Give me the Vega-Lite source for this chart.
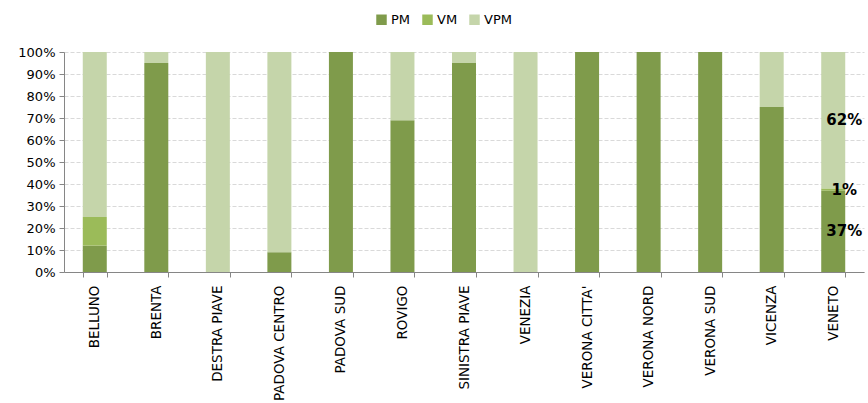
{
  "$schema": "https://vega.github.io/schema/vega-lite/v6.json",
  "width": 800,
  "height": 220,
  "autosize": {"type": "none"},
  "padding": {"left": 64, "top": 52, "right": 4, "bottom": 131},
  "background": "white",
  "config": {
    "font": "DejaVu Sans",
    "view": {"stroke": null},
    "axis": {"labelFont": "DejaVu Sans", "labelColor": "#000000"},
    "legend": {"labelFont": "DejaVu Sans"}
  },
  "resolve": {"scale": {"y": "shared"}, "axis": {"y": "independent"}},
  "data": {
    "values": [
      {"zona": "BELLUNO", "serie": "PM", "valore": 0.12},
      {"zona": "BELLUNO", "serie": "VM", "valore": 0.13},
      {"zona": "BELLUNO", "serie": "VPM", "valore": 0.75},
      {"zona": "BRENTA", "serie": "PM", "valore": 0.95},
      {"zona": "BRENTA", "serie": "VPM", "valore": 0.05},
      {"zona": "DESTRA PIAVE", "serie": "VPM", "valore": 1.0},
      {"zona": "PADOVA CENTRO", "serie": "PM", "valore": 0.09},
      {"zona": "PADOVA CENTRO", "serie": "VPM", "valore": 0.91},
      {"zona": "PADOVA SUD", "serie": "PM", "valore": 1.0},
      {"zona": "ROVIGO", "serie": "PM", "valore": 0.69},
      {"zona": "ROVIGO", "serie": "VPM", "valore": 0.31},
      {"zona": "SINISTRA PIAVE", "serie": "PM", "valore": 0.95},
      {"zona": "SINISTRA PIAVE", "serie": "VPM", "valore": 0.05},
      {"zona": "VENEZIA", "serie": "VPM", "valore": 1.0},
      {"zona": "VERONA CITTA'", "serie": "PM", "valore": 1.0},
      {"zona": "VERONA NORD", "serie": "PM", "valore": 1.0},
      {"zona": "VERONA SUD", "serie": "PM", "valore": 1.0},
      {"zona": "VICENZA", "serie": "PM", "valore": 0.75},
      {"zona": "VICENZA", "serie": "VPM", "valore": 0.25},
      {"zona": "VENETO", "serie": "PM", "valore": 0.37, "etichetta": true},
      {"zona": "VENETO", "serie": "VM", "valore": 0.01, "etichetta": true},
      {"zona": "VENETO", "serie": "VPM", "valore": 0.62, "etichetta": true}
    ]
  },
  "encoding": {
    "x": {
      "field": "zona",
      "type": "nominal",
      "sort": null,
      "scale": {"paddingInner": 0.61, "paddingOuter": 0.305},
      "axis": {
        "title": null,
        "labelAngle": -90,
        "labelFontSize": 13.5,
        "labelPadding": 8,
        "labelOverlap": false,
        "tickBand": "extent",
        "tickSize": 5,
        "tickColor": "#868686",
        "domainColor": "#868686",
        "grid": false
      }
    }
  },
  "layer": [
    {
      "mark": {"type": "bar"},
      "encoding": {
        "y": {
          "field": "valore",
          "type": "quantitative",
          "stack": "normalize",
          "scale": {"domain": [0, 1]},
          "axis": {
            "title": null,
            "format": ".0%",
            "values": [0, 0.1, 0.2, 0.3, 0.4, 0.5, 0.6, 0.7, 0.8, 0.9, 1.0],
            "labelOverlap": false,
            "labelFontSize": 13,
            "labelPadding": 4,
            "tickSize": 5,
            "tickColor": "#868686",
            "domainColor": "#868686",
            "grid": true,
            "gridColor": "#d9d9d9",
            "gridDash": [4, 2]
          }
        },
        "color": {
          "field": "serie",
          "type": "nominal",
          "scale": {"domain": ["PM", "VM", "VPM"], "range": ["#7f9b4b", "#9bbb59", "#c5d5aa"]},
          "legend": {
            "title": null,
            "orient": "none",
            "legendX": 311,
            "legendY": -39,
            "direction": "horizontal",
            "symbolType": "square",
            "symbolSize": 110,
            "symbolStrokeWidth": 0,
            "labelFontSize": 13,
            "labelOffset": 3,
            "columnPadding": 10
          }
        },
        "order": {"field": "serie", "sort": "ascending"}
      }
    },
    {
      "transform": [
        {"stack": "valore", "groupby": ["zona"], "sort": [{"field": "serie", "order": "ascending"}], "offset": "normalize", "as": ["y0", "y1"]},
        {"filter": "datum.etichetta === true"},
        {"calculate": "(datum.y0 + datum.y1) / 2", "as": "mid"}
      ],
      "mark": {"type": "text", "fontSize": 15, "fontWeight": "bold", "color": "#000000", "dx": 11, "align": "center", "baseline": "middle"},
      "encoding": {
        "y": {
          "field": "mid",
          "type": "quantitative",
          "axis": {"title": null, "orient": "right", "domain": false, "ticks": false, "labels": false, "grid": false}
        },
        "text": {"field": "valore", "type": "quantitative", "format": ".0%"}
      }
    }
  ]
}
